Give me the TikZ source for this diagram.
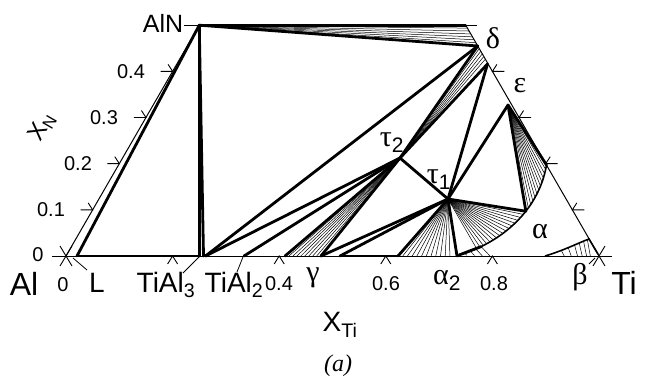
\documentclass[tikz,border=0pt]{standalone}
\usepackage{fontspec}
\setmainfont{Liberation Sans}
\newfontfamily\grk{Liberation Serif}
\usetikzlibrary{calc}
\begin{document}
\begin{tikzpicture}[x=1pt,y=-1pt,
  thinl/.style={line width=1pt},
  thickl/.style={line width=2.8pt, line cap=round, line join=round},
  fanl/.style={line width=0.5pt},
  curvel/.style={line width=1.6pt},
  tickl/.style={line width=0.9pt},
  lab/.style={inner sep=0pt, font=\fontsize{28}{28}\selectfont},
  big/.style={inner sep=0pt, font=\fontsize{32}{32}\selectfont},
  num/.style={inner sep=0pt, font=\fontsize{20}{20}\selectfont},
  gk/.style={inner sep=0pt, font=\fontsize{30}{30}\selectfont\grk},
  leader/.style={line width=0.8pt}]
\useasboundingbox (0,0) rectangle (647,386);
% key points
\coordinate (Al) at (66,256);
\coordinate (Ti) at (599,256);
\coordinate (AlN) at (199.25,25.2);
\coordinate (TiN) at (465.75,25.2);
\coordinate (L) at (77,256);
\coordinate (TiAlA) at (199.25,256);
\coordinate (TiAlB) at (203.5,256);
\coordinate (TiAlC) at (205.5,256);
\coordinate (TiAlTwo) at (244,256);
\coordinate (gA) at (285,256);
\coordinate (gB) at (321,256);
\coordinate (gC) at (340,256);
\coordinate (aTa) at (398,256);
\coordinate (aTb) at (457,256);
\coordinate (tau2) at (400,158);
\coordinate (tau1) at (448,199);
\coordinate (delta) at (477.7,46);
\coordinate (deltab) at (487.5,64);
\coordinate (eps) at (508,105);
\coordinate (aTop) at (546.5,165);
\coordinate (aEnd) at (459,255);
\coordinate (aC1) at (538,215);
\coordinate (aC2) at (495,245);
% frame
\draw[thinl] (52,256) -- (612,256);
\draw[thinl] (Al) -- (AlN);
\draw[thinl] (TiN) -- (Ti);
\draw[thinl] (184,25.2) -- (477,25.2);
% corner crosses
\draw[tickl] (60,246) -- (72,266) (60,266) -- (72,246);
\draw[tickl] (593,246) -- (605,266) (593,266) -- (605,246);
% base ticks
\foreach \x in {172.6,279.2,385.8,492.4}
  \draw[tickl] (\x-5,264) -- (\x,256) -- (\x+5,264);
% left ticks
\foreach \n in {0.1,0.2,0.3,0.4}
  \draw[tickl] ($(66,256)+(266.5*\n,-461.6*\n)+(-12,0)$) -- ($(66,256)+(266.5*\n,-461.6*\n)$) -- ($(66,256)+(266.5*\n,-461.6*\n)+(-4.5,-7)$);
% right ticks
\foreach \n in {0.1,0.2,0.3,0.4}
  \draw[tickl] ($(599,256)+(-266.5*\n,-461.6*\n)+(12,0)$) -- ($(599,256)+(-266.5*\n,-461.6*\n)$) -- ($(599,256)+(-266.5*\n,-461.6*\n)+(4.5,-7)$);
% fans
\foreach \t in {0.14,0.28,...,0.9}
  \draw[fanl] (AlN) -- ($(TiN)!\t!(delta)$);
\foreach \t in {0.15,0.3,...,0.9}
  \draw[fanl] (tau2) -- ($(delta)!\t!(deltab)$);
\foreach \t in {0.11,0.22,...,0.95}
  \draw[fanl] (tau2) -- ($(gA)!\t!(gB)$);
\foreach \t in {0.08,0.16,...,0.95}
  \draw[fanl] (tau1) -- ($(aTa)!\t!(aTb)$);
\foreach \t in {0.39,0.42,...,0.86}{
  \path (aTop) .. controls (aC1) and (aC2) .. (aEnd) coordinate[pos=\t] (q);
  \draw[fanl] (tau1) -- (q);}
\foreach \t in {0.03,0.06,...,0.34}{
  \path (aTop) .. controls (aC1) and (aC2) .. (aEnd) coordinate[pos=\t] (q);
  \draw[fanl] (eps) -- (q);}
\path (aTop) .. controls (aC1) and (aC2) .. (aEnd) coordinate[pos=0.36] (aMid) coordinate[pos=0.8] (aLow);
% alpha curve
\draw[curvel] (aTop) .. controls (aC1) and (aC2) .. (aEnd);
% alpha2 + alpha small wedge
\coordinate (aw) at (490,256);
\draw[thickl] (aEnd) -- (aLow);
\draw[fanl] (aLow) -- (aw);
\foreach \t in {0.25,0.5,0.75}
  \draw[fanl] ($(aEnd)!\t!(aLow)$) -- ($(aEnd)!\t!(aw)$);
% beta region
\coordinate (bA) at (545,256);
\coordinate (bB) at (589,239);
\coordinate (bC) at (598,254);
\draw[curvel] (bA) .. controls (565,250) and (578,243) .. (bB) -- (bC);
\foreach \t in {0.3,0.45,0.6,0.72,0.84,0.95}{
  \path (bA) .. controls (565,250) and (578,243) .. (bB) coordinate[pos=\t] (q);
  \draw[fanl] (q) -- ($(q|-Al)+(3,0)$);}
% thick tie lines
\draw[thickl] (L) -- (AlN);
\draw[thickl] (L) -- (TiAlA);
\draw[thickl] (AlN) -- (TiN);
\draw[thickl] (AlN) -- (TiAlA);
\draw[thickl] (AlN) -- (TiAlB);
\draw[thickl] (TiAlC) -- (delta);
\draw[thickl] (TiAlC) -- (tau2);
\draw[thickl] (TiAlTwo) -- (tau2);
\draw[thickl] (gA) -- (tau2);
\draw[thickl] (gB) -- (tau2);
\draw[thickl] (gB) -- (tau1);
\draw[thickl] (gC) -- (tau1);
\draw[thickl] (gC) -- (aTa);
\draw[thickl] (aTa) -- (tau1);
\draw[thickl] (aTb) -- (tau1);
\draw[thickl] (AlN) -- (delta);
\draw[thickl] (tau2) -- (delta);
\draw[thickl] (tau2) -- (deltab);
\draw[thickl] (tau2) -- (tau1);
\draw[thickl] (tau1) -- (deltab);
\draw[thickl] (tau1) -- (eps);
\draw[thickl] (tau1) -- (aMid);
\draw[thickl] (eps) -- (aMid);
\draw[thickl] (eps) -- (aTop);
% leaders
\draw[leader] (73,258) -- (87,270);
\draw[leader] (183,273) -- (199,257);
\draw[leader] (237,272) -- (243,257);
\draw[leader] (589,264) -- (595,258);
% labels
\node[inner sep=0pt, font=\fontsize{25}{25}\selectfont] (tAlN) at (163,23) {AlN};
\node[num] (n4) at (131,72) {0.4};
\node[num] (n3) at (104,118) {0.3};
\node[num] (n2) at (78,164) {0.2};
\node[num] (n1) at (51,210) {0.1};
\node[num] (n0) at (38,255) {0};
\node[inner sep=0pt, font=\fontsize{24}{24}\selectfont, rotate=60] (xN) at (42,127) {X\textsubscript{N}};
\node[big] (tAl) at (24,284) {Al};
\node[num] (b0) at (63,285) {0};
\node[lab] (tL) at (97,283) {L};
\node[lab] (tTiAl3) at (166,285) {TiAl\textsubscript{3}};
\node[lab] (tTiAl2) at (234,285) {TiAl\textsubscript{2}};
\node[num] (b4) at (279,284) {0.4};
\node[gk] (tg) at (313,278) {γ};
\node[num] (b6) at (386,284) {0.6};
\node[gk] (ta2) at (447,280) {α\textsubscript{\fontspec{Liberation Sans}2}};
\node[num] (b8) at (494,284) {0.8};
\node[gk] (tb) at (580,277) {β};
\node[big] (tTi) at (624,283) {Ti};
\node[lab] (xTi) at (340,325) {X\textsubscript{Ti}};
\node[inner sep=0pt, font=\fontsize{24}{24}\selectfont\grk\itshape] (ta) at (338,366) {(a)};
\node[gk] (td) at (493,38) {δ};
\node[gk] (te) at (520,86) {ε};
\node[gk] (tt2) at (392,143) {τ\textsubscript{\fontspec{Liberation Sans}2}};
\node[gk] (tt1) at (439,180) {τ\textsubscript{\fontspec{Liberation Sans}1}};
\node[gk] (talpha) at (540,232) {α};
\end{tikzpicture}
\end{document}
